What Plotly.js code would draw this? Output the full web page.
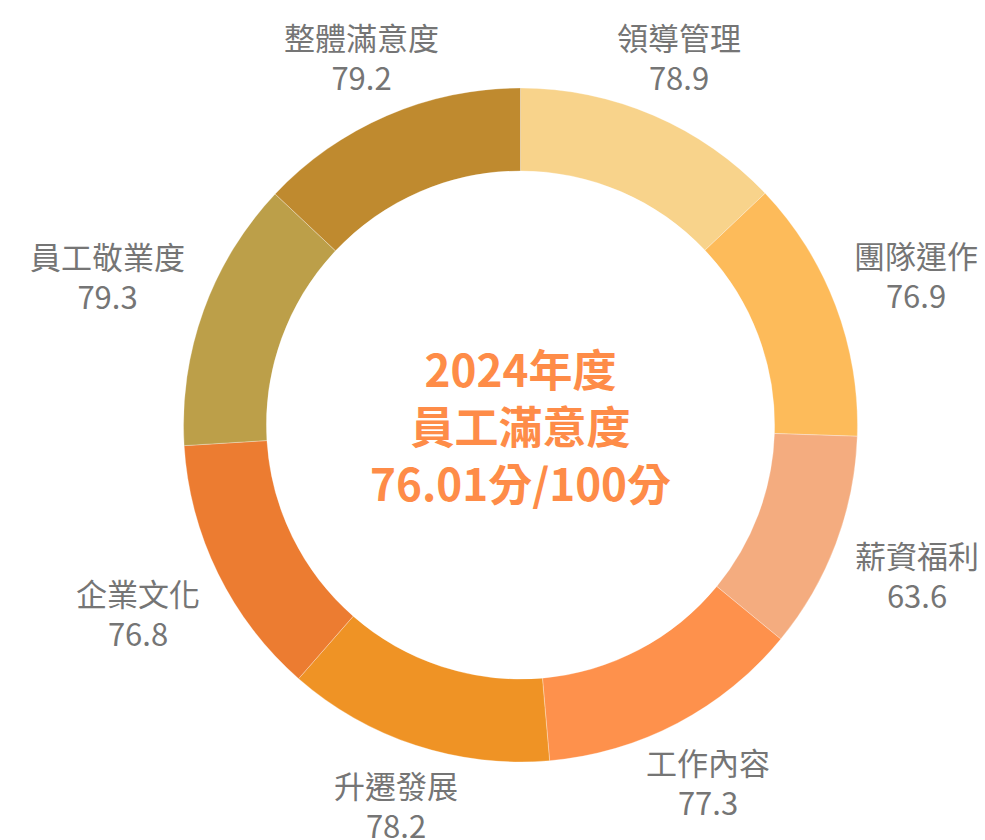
<!DOCTYPE html>
<html>
<head>
<meta charset="utf-8">
<script src="https://cdn.plot.ly/plotly-3.0.1.min.js"></script>
<style>html,body{margin:0;padding:0;background:#fff;}#chart{width:985px;height:840px;}</style>
</head>
<body>
<div id="chart"></div>
<script>
const categories = ['領導管理', '團隊運作', '薪資福利', '工作內容', '升遷發展', '企業文化', '員工敬業度', '整體滿意度'];
const scores = [78.9, 76.9, 63.6, 77.3, 78.2, 76.8, 79.3, 79.2];
const sliceColors = ['#F8D38B', '#FDBB5A', '#F4AC7F', '#FE914C', '#EF9325', '#EC7C31', '#BC9F49', '#BF8A2F'];
const centerLines = ['2024年度', '員工滿意度', '76.01分/100分'];

const W = 985, H = 840;
// pie placement (pixels)
const CX = 520.5, CY = 425, R = 337;
const LABEL_GAP = 20;   // gap between ring and label box
const LABEL_FS = 31;

const trace = {
  type: 'pie',
  labels: categories,
  values: scores,
  sort: false,
  direction: 'clockwise',
  rotation: 0,
  hole: 0.754,
  domain: {x: [(CX - R) / W, (CX + R) / W], y: [1 - (CY + R) / H, 1 - (CY - R) / H]},
  marker: {colors: sliceColors, line: {color: 'rgba(255,255,255,0.6)', width: 0.5}},
  textinfo: 'none',
  showlegend: false,
  hoverinfo: 'label+value'
};

// outside labels centred on each slice's mid-angle ray
const total = scores.reduce((a, b) => a + b, 0);
let cum = 0;
const annotations = [];
categories.forEach((name, i) => {
  const mid = (cum + scores[i] / 2) / total * 2 * Math.PI;
  cum += scores[i];
  const ux = Math.sin(mid), uy = -Math.cos(mid);
  const hw = name.length * LABEL_FS / 2;
  const hh = LABEL_FS * 1.3;
  const t = Math.min(Math.abs(ux) > 1e-6 ? hw / Math.abs(ux) : 1e9, Math.abs(uy) > 1e-6 ? hh / Math.abs(uy) : 1e9);
  const d = R + LABEL_GAP + t;
  annotations.push({
    text: name + '<br>' + scores[i].toFixed(1),
    x: (CX + d * ux) / W, y: 1 - (CY + d * uy) / H,
    xref: 'paper', yref: 'paper', xanchor: 'center', yanchor: 'middle',
    showarrow: false, align: 'center',
    font: {family: 'Noto Sans CJK TC', size: LABEL_FS, color: '#757575'}
  });
});

annotations.push({
  text: '<b>' + centerLines.join('<br>') + '</b>',
  x: CX / W, y: 1 - CY / H, xref: 'paper', yref: 'paper',
  xanchor: 'center', yanchor: 'middle',
  showarrow: false,
  font: {family: 'Noto Sans CJK TC', size: 44, color: '#FE8C48'}
});

const layout = {
  width: W,
  height: H,
  margin: {l: 0, r: 0, t: 0, b: 0},
  paper_bgcolor: '#ffffff',
  plot_bgcolor: '#ffffff',
  showlegend: false,
  annotations: annotations
};

Plotly.newPlot('chart', [trace], layout, {displayModeBar: false});
</script>
</body>
</html>
